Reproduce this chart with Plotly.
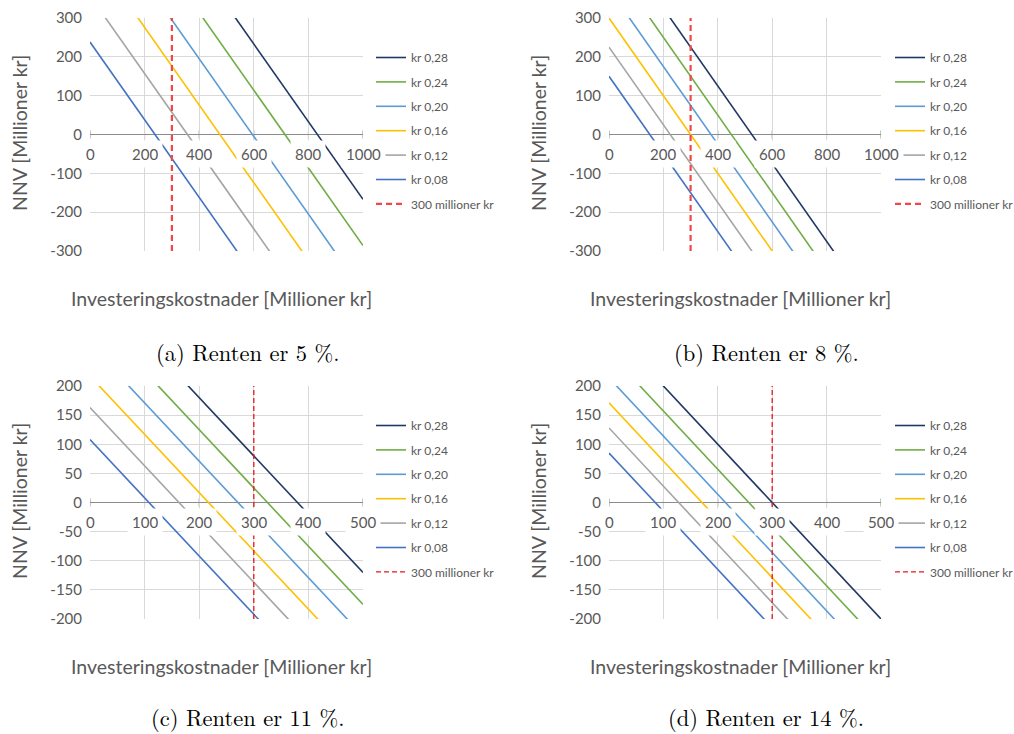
import plotly.graph_objects as go

# Electricity price per kWh for each line (legend order, top to bottom)
price_labels = ["kr 0,28", "kr 0,24", "kr 0,20", "kr 0,16", "kr 0,12", "kr 0,08"]
cutoff_label = "300 millioner kr"
cutoff_invest = 300

# Net present value (millions kr) at zero investment and at the end of the x range
nnv_start_5 = [833, 714, 595, 476, 357, 238]
nnv_end_5 = [-167, -286, -405, -524, -643, -762]
nnv_start_8 = [525, 450, 375, 300, 225, 150]
nnv_end_8 = [-475, -550, -625, -700, -775, -850]
nnv_start_11 = [380, 325, 271, 217, 163, 108]
nnv_end_11 = [-120, -175, -229, -283, -337, -392]
nnv_start_14 = [300, 257, 214, 171, 128, 85]
nnv_end_14 = [-200, -243, -286, -329, -372, -415]

# Investment axis (millions kr)
invest_range_a = [0, 1000]
invest_range_c = [0, 500]
x_ticks_a = [0, 200, 400, 600, 800, 1000]
x_ticks_c = [0, 100, 200, 300, 400, 500]

# NNV axis (millions kr)
nnv_range_a = [-300, 300]
nnv_range_c = [-200, 200]
y_ticks_a = [-300, -200, -100, 0, 100, 200, 300]
y_ticks_c = [-200, -150, -100, -50, 0, 50, 100, 150, 200]

captions = ["(a) Renten er 5 %.", "(b) Renten er 8 %.", "(c) Renten er 11 %.", "(d) Renten er 14 %."]
x_title = "Investeringskostnader [Millioner kr]"
y_title = "NNV [Millioner kr]"

series_colors = ["#203864", "#70AD47", "#5B9BD5", "#FFC000", "#A5A5A5", "#4472C4"]
TEXT = "#595959"
FONT = "Lato, 'Open Sans', sans-serif"
SERIF = "'Latin Modern Roman', 'Liberation Serif', 'DejaVu Serif', serif"
W, H = 1014, 734


def px_x(v):
    return v / W


def px_y(v):
    return 1 - v / H


panels = [
    dict(start=nnv_start_5, end=nnv_end_5, xr=invest_range_a, xt=x_ticks_a, yr=nnv_range_a, yt=y_ticks_a,
         xd=[90, 363], yd=[18, 251], cap_y=352, red="#F04848", redw=2.2, reddash="6px,4px"),
    dict(start=nnv_start_8, end=nnv_end_8, xr=invest_range_a, xt=x_ticks_a, yr=nnv_range_a, yt=y_ticks_a,
         xd=[609, 881], yd=[18, 251], cap_y=352, red="#F04848", redw=2.2, reddash="6px,4px"),
    dict(start=nnv_start_11, end=nnv_end_11, xr=invest_range_c, xt=x_ticks_c, yr=nnv_range_c, yt=y_ticks_c,
         xd=[90, 363], yd=[386, 619], cap_y=717, red="#E81818", redw=1.3, reddash="5px,3px"),
    dict(start=nnv_start_14, end=nnv_end_14, xr=invest_range_c, xt=x_ticks_c, yr=nnv_range_c, yt=y_ticks_c,
         xd=[609, 881], yd=[386, 619], cap_y=717, red="#E81818", redw=1.3, reddash="5px,3px"),
]

fig = go.Figure()
annotations = []
shapes = []
layout = {}

for i, p in enumerate(panels):
    n = i + 1
    sfx = "" if n == 1 else str(n)
    xa, ya = "x" + sfx, "y" + sfx
    leg = "legend" + sfx

    for k, name in enumerate(price_labels):
        fig.add_trace(go.Scatter(
            x=p["xr"], y=[p["start"][k], p["end"][k]], mode="lines", name=name,
            line=dict(color=series_colors[k], width=1.6),
            xaxis=xa, yaxis=ya, legend=leg, legendgroup=f"{n}-{k}",
            showlegend=True, hoverinfo="skip",
        ))
    fig.add_trace(go.Scatter(
        x=[cutoff_invest, cutoff_invest], y=p["yr"], mode="lines", name=cutoff_label,
        line=dict(color=p["red"], width=p["redw"], dash=p["reddash"]),
        xaxis=xa, yaxis=ya, legend=leg, legendgroup=f"{n}-cut",
        showlegend=True, hoverinfo="skip",
    ))

    layout["xaxis" + sfx] = dict(
        domain=[px_x(p["xd"][0]), px_x(p["xd"][1])], range=p["xr"], anchor=ya,
        tickvals=p["xt"], showticklabels=False, showgrid=True, gridcolor="#D9D9D9",
        gridwidth=1, zeroline=False, showline=False, fixedrange=True,
    )
    layout["yaxis" + sfx] = dict(
        domain=[px_y(p["yd"][1]), px_y(p["yd"][0])], range=p["yr"], anchor=xa,
        tickvals=p["yt"], ticktext=[str(v) for v in p["yt"]],
        showgrid=True, gridcolor="#D9D9D9", gridwidth=1,
        zeroline=True, zerolinecolor="#8C8C8C", zerolinewidth=1.2, showline=False,
        tickfont=dict(family=FONT, size=15, color=TEXT), ticklabelstandoff=7,
        fixedrange=True,
    )

    # Category labels sit just under the zero line, boxed in white
    for t in p["xt"]:
        annotations.append(dict(
            x=t, y=0, xref=xa, yref=ya, text=str(t), showarrow=False,
            yanchor="middle", yshift=-19, borderpad=4,
            bgcolor="rgba(0,0,0,0)" if t == 0 else "white",
            font=dict(family=FONT, size=15, color=TEXT),
        ))
        shapes.append(dict(
            type="line", xref=xa, yref=ya, x0=t, x1=t, ysizemode="pixel", yanchor=0,
            y0=-4, y1=4, line=dict(color="#8C8C8C", width=1), layer="below",
        ))
    # gap in the left gridline behind the "0" label
    shapes.append(dict(
        type="rect", xref=xa, yref=ya, xsizemode="pixel", xanchor=0, x0=-1, x1=2,
        ysizemode="pixel", yanchor=0, y0=-7, y1=-31, fillcolor="white",
        line=dict(width=0), layer="below",
    ))

    left = p["xd"][0]
    top = p["yd"][0]
    layout[leg] = dict(
        x=px_x(left + 281), y=px_y(top + 25), xanchor="left", yanchor="top",
        bgcolor="rgba(0,0,0,0)", font=dict(family=FONT, size=12, color=TEXT),
        tracegroupgap=5.4, traceorder="grouped",
    )

    annotations.append(dict(
        x=px_x(left - 71), y=px_y(top + 115), xref="paper", yref="paper", text=y_title,
        textangle=-90, showarrow=False, xanchor="center", yanchor="middle",
        font=dict(family=FONT, size=19.5, color=TEXT),
    ))
    annotations.append(dict(
        x=px_x(left + 131), y=px_y(top + 280), xref="paper", yref="paper", text=x_title,
        showarrow=False, xanchor="center", yanchor="middle",
        font=dict(family=FONT, size=19.5, color=TEXT),
    ))
    annotations.append(dict(
        x=px_x(left + 157), y=px_y(p["cap_y"]), xref="paper", yref="paper", text=captions[i],
        showarrow=False, xanchor="center", yanchor="middle",
        font=dict(family=SERIF, size=22.5, color="#000000"),
    ))

fig.update_layout(
    width=W, height=H, margin=dict(l=0, r=0, t=0, b=0, autoexpand=False),
    paper_bgcolor="white", plot_bgcolor="white",
    annotations=annotations, shapes=shapes, **layout,
)

fig.write_html("out.html")
